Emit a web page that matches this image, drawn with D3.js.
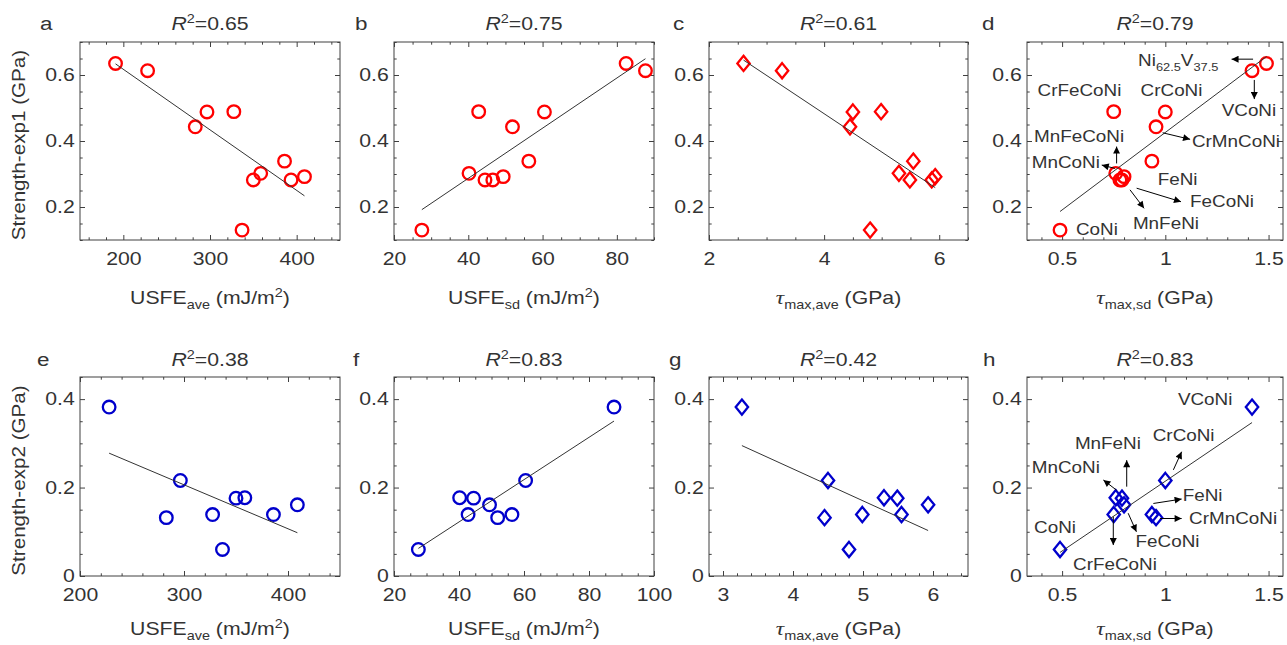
<!DOCTYPE html>
<html>
<head>
<meta charset="utf-8">
<script src="https://cdn.jsdelivr.net/npm/d3@7"></script>
<style>
  body { margin: 0; background: #fff; }
  svg { font-family: "Liberation Sans", Arial, sans-serif; }
</style>
</head>
<body>
<svg id="chart" width="1287" height="645"></svg>
<script>
// alloys, same order in every array
var alloys    = ["Ni62.5V37.5", "VCoNi", "CrFeCoNi", "CrCoNi", "CrMnCoNi", "FeNi", "MnFeCoNi", "MnCoNi", "FeCoNi", "MnFeNi", "CoNi"];
var usfeAve   = [191, 228, 327.5, 296.5, 283, 386, 393.5, 358.5, 409, 350, 337];
var usfeSd    = [82.5, 87.7, 42.8, 60.5, 51.9, 56.3, 46.6, 40.2, 49.4, 44.5, 27.5];
var tauAve    = [2.6, 3.27, 4.99, 4.5, 4.45, 5.55, 5.87, 5.3, 5.93, 5.49, 4.8];
var tauSd     = [1.49, 1.42, 0.75, 1.0, 0.955, 0.935, 0.78, 0.76, 0.80, 0.79, 0.49];
var strength1 = [0.635, 0.613, 0.489, 0.488, 0.443, 0.339, 0.282, 0.302, 0.292, 0.282, 0.13];
var strength2 = [null, 0.382, 0.139, 0.216, 0.132, 0.139, null, 0.177, 0.161, 0.176, 0.06];

var r2Values  = ["0.65", "0.75", "0.61", "0.79", "0.38", "0.83", "0.42", "0.83"];
var letters   = ["a", "b", "c", "d", "e", "f", "g", "h"];

var yTicksTop = [0.2, 0.4, 0.6];
var yTicksBottom = [0, 0.2, 0.4];

var SX = 1.18;          // the figure's font is wider than Arial
var INK = "#333333";
var RED = "#ff0000", BLUE = "#0000cc";

var svg = d3.select("#chart");

svg.append("defs").append("marker")
    .attr("id", "arr")
    .attr("viewBox", "0 0 10 10")
    .attr("refX", 10).attr("refY", 5)
    .attr("markerWidth", 9).attr("markerHeight", 7)
    .attr("markerUnits", "userSpaceOnUse")
    .attr("orient", "auto")
  .append("path")
    .attr("d", "M0,0L10,5L0,10Z")
    .attr("fill", "#000");

var cols = [{left: 80, width: 260}, {left: 394, width: 260}, {left: 709, width: 259}, {left: 1027, width: 256}];
var rows = [
  {top: 42, bottom: 240, titleY: 30, labelY: 304, yDomain: [0.1, 0.7], yTicks: yTicksTop, ys: strength1, color: RED, yLabel: "Strength-exp1 (GPa)"},
  {top: 377, bottom: 576, titleY: 366, labelY: 635, yDomain: [0, 0.45], yTicks: yTicksBottom, ys: strength2, color: BLUE, yLabel: "Strength-exp2 (GPa)"}
];

var labUsfeAve = [["USFE"], ["ave", "sub"], [" (mJ/m"], ["2", "sup"], [")"]];
var labUsfeSd  = [["USFE"], ["sd", "sub"], [" (mJ/m"], ["2", "sup"], [")"]];
var labTauAve  = [["τ", "tau"], ["max,ave", "sub"], [" (GPa)"]];
var labTauSd   = [["τ", "tau"], ["max,sd", "sub"], [" (GPa)"]];

// annotations of panels d and h, in data units
var annD = [
  {t: [["Ni"], ["62.5", "sub"], ["V"], ["37.5", "sub"]], x: 0.868, y: 0.645, a: "start"},
  {t: [["VCoNi"]], x: 1.405, y: 0.494, a: "middle"},
  {t: [["CrFeCoNi"]], x: 0.584, y: 0.555, a: "middle"},
  {t: [["CrCoNi"]], x: 1.03, y: 0.555, a: "middle"},
  {t: [["MnFeCoNi"]], x: 0.582, y: 0.415, a: "middle"},
  {t: [["MnCoNi"]], x: 0.518, y: 0.335, a: "middle"},
  {t: [["CrMnCoNi"]], x: 1.129, y: 0.40, a: "start"},
  {t: [["FeNi"]], x: 0.963, y: 0.285, a: "start"},
  {t: [["FeCoNi"]], x: 1.12, y: 0.218, a: "start"},
  {t: [["MnFeNi"]], x: 0.843, y: 0.152, a: "start"},
  {t: [["CoNi"]], x: 0.567, y: 0.132, a: "start"}
];
var arrD = [
  [1.425, 0.648, 1.321, 0.648],
  [1.431, 0.585, 1.431, 0.527],
  [0.764, 0.332, 0.764, 0.383],
  [0.756, 0.317, 0.692, 0.327],
  [0.987, 0.425, 1.120, 0.405],
  [0.861, 0.257, 1.076, 0.216],
  [0.829, 0.252, 0.897, 0.196]
];
var annH = [
  {t: [["VCoNi"]], x: 1.061, y: 0.400, a: "start"},
  {t: [["CrCoNi"]], x: 0.939, y: 0.319, a: "start"},
  {t: [["MnFeNi"]], x: 0.562, y: 0.301, a: "start"},
  {t: [["MnCoNi"]], x: 0.353, y: 0.247, a: "start"},
  {t: [["FeNi"]], x: 1.084, y: 0.183, a: "start"},
  {t: [["CrMnCoNi"]], x: 1.115, y: 0.130, a: "start"},
  {t: [["FeCoNi"]], x: 0.856, y: 0.078, a: "start"},
  {t: [["CrFeCoNi"]], x: 0.553, y: 0.026, a: "start"},
  {t: [["CoNi"]], x: 0.364, y: 0.111, a: "start"}
];
var arrH = [
  [1.039, 0.240, 1.079, 0.281],
  [0.813, 0.202, 0.813, 0.262],
  [0.764, 0.194, 0.700, 0.217],
  [0.942, 0.164, 1.079, 0.174],
  [0.974, 0.130, 1.079, 0.130],
  [0.820, 0.142, 0.860, 0.100],
  [0.748, 0.134, 0.748, 0.070]
];

var panels = [
  {row: 0, col: 0, xs: usfeAve, xDomain: [150, 450], xTicks: [200, 300, 400], minor: 20, shape: "circle", xLabel: labUsfeAve, letterX: 40},
  {row: 0, col: 1, xs: usfeSd, xDomain: [20, 90], xTicks: [20, 40, 60, 80], minor: 5, shape: "circle", xLabel: labUsfeSd, letterX: 355},
  {row: 0, col: 2, xs: tauAve, xDomain: [2, 6.5], xTicks: [2, 4, 6], minor: 0.5, shape: "diamond", xLabel: labTauAve, letterX: 673},
  {row: 0, col: 3, xs: tauSd, xDomain: [0.33, 1.57], xTicks: [0.5, 1, 1.5], minor: 0.1, shape: "circle", xLabel: labTauSd, letterX: 982, ann: annD, arrows: arrD},
  {row: 1, col: 0, xs: usfeAve, xDomain: [200, 450], xTicks: [200, 300, 400], minor: 20, shape: "circle", xLabel: labUsfeAve, letterX: 37},
  {row: 1, col: 1, xs: usfeSd, xDomain: [20, 100], xTicks: [20, 40, 60, 80, 100], minor: 5, shape: "circle", xLabel: labUsfeSd, letterX: 353},
  {row: 1, col: 2, xs: tauAve, xDomain: [2.8, 6.5], xTicks: [3, 4, 5, 6], minor: 0.2, shape: "diamond", xLabel: labTauAve, letterX: 669},
  {row: 1, col: 3, xs: tauSd, xDomain: [0.33, 1.57], xTicks: [0.5, 1, 1.5], minor: 0.1, shape: "diamond", xLabel: labTauSd, letterX: 983, ann: annH, arrows: arrH}
];

function richText(g, x, y, parts, size, anchor, rot) {
  var t = g.append("text")
      .attr("transform", "translate(" + x + "," + y + ")" + (rot || "") + " scale(" + SX + ",1)")
      .attr("text-anchor", anchor || "start")
      .attr("font-size", size)
      .attr("fill", INK);
  var shift = 0;
  parts.forEach(function(p) {
    var kind = p[1] || "";
    var target = kind === "sub" ? size * 0.3 : kind === "sup" ? -size * 0.4 : 0;
    var ts = t.append("tspan").attr("dy", target - shift).text(p[0]);
    shift = target;
    if (kind === "sub" || kind === "sup") ts.attr("font-size", size * 0.68);
    if (kind === "it") ts.attr("font-style", "italic");
    if (kind === "tau") ts.attr("font-family", "'Liberation Serif', serif").attr("font-style", "italic").attr("font-size", size * 1.1);
  });
  return t;
}

function minorTicks(domain, step, major) {
  var out = [];
  for (var i = Math.ceil(domain[0] / step - 1e-9); i * step <= domain[1] + 1e-9; i++) {
    var v = +(i * step).toFixed(6);
    if (major.every(function(m) { return Math.abs(m - v) > 1e-6; })) out.push(v);
  }
  return out;
}

function fit(xs, ys) {
  var pts = xs.map(function(x, i) { return [x, ys[i]]; }).filter(function(p) { return p[1] != null; });
  var mx = d3.mean(pts, function(p) { return p[0]; }), my = d3.mean(pts, function(p) { return p[1]; });
  var sxy = d3.sum(pts, function(p) { return (p[0] - mx) * (p[1] - my); });
  var sxx = d3.sum(pts, function(p) { return (p[0] - mx) * (p[0] - mx); });
  var b = sxy / sxx, a = my - b * mx;
  var ext = d3.extent(pts, function(p) { return p[0]; });
  return [[ext[0], a + b * ext[0]], [ext[1], a + b * ext[1]]];
}

panels.forEach(function(p, idx) {
  var c = cols[p.col], r = rows[p.row];
  var x = d3.scaleLinear().domain(p.xDomain).range([c.left, c.left + c.width]);
  var y = d3.scaleLinear().domain(r.yDomain).range([r.bottom, r.top]);
  var g = svg.append("g");

  // box
  g.append("rect")
      .attr("x", c.left).attr("y", r.top)
      .attr("width", c.width).attr("height", r.bottom - r.top)
      .attr("fill", "none").attr("stroke", "#404040").attr("stroke-width", 1);

  var xMinor = minorTicks(p.xDomain, p.minor, p.xTicks);
  var yMinor = minorTicks(r.yDomain, 0.05, r.yTicks);

  function tickAxis(axis, pos, values, size, withLabels) {
    var a = g.append("g").attr("transform", pos)
        .call(axis.tickValues(values).tickSizeInner(-size).tickSizeOuter(0)
          .tickPadding(withLabels ? withLabels : 0)
          .tickFormat(withLabels ? function(d) { return String(d); } : ""));
    a.select(".domain").remove();
    a.selectAll(".tick line").attr("stroke", "#404040");
    a.selectAll(".tick text").attr("fill", INK).attr("font-size", 18)
        .attr("font-family", "'Liberation Sans', Arial, sans-serif");
    return a;
  }

  var bx = tickAxis(d3.axisBottom(x), "translate(0," + r.bottom + ")", p.xTicks, 5, 12.5);
  bx.selectAll(".tick text").attr("transform", "scale(" + SX + ",1)");
  tickAxis(d3.axisBottom(x), "translate(0," + r.bottom + ")", xMinor, 2.7, 0);
  tickAxis(d3.axisTop(x), "translate(0," + r.top + ")", p.xTicks, 5, 0);
  tickAxis(d3.axisTop(x), "translate(0," + r.top + ")", xMinor, 2.7, 0);

  var ly = tickAxis(d3.axisLeft(y), "translate(" + c.left + ",0)", r.yTicks, 5, 4.5);
  ly.selectAll(".tick text").attr("transform", "scale(" + SX + ",1)");
  tickAxis(d3.axisLeft(y), "translate(" + c.left + ",0)", yMinor, 2.7, 0);
  tickAxis(d3.axisRight(y), "translate(" + (c.left + c.width) + ",0)", r.yTicks, 5, 0);
  tickAxis(d3.axisRight(y), "translate(" + (c.left + c.width) + ",0)", yMinor, 2.7, 0);

  // markers
  var pts = p.xs.map(function(v, i) { return {x: v, y: r.ys[i], name: alloys[i]}; })
      .filter(function(d) { return d.y != null; });
  if (p.shape === "circle") {
    g.selectAll("circle.pt").data(pts).enter().append("circle")
        .attr("class", "pt")
        .attr("cx", function(d) { return x(d.x); })
        .attr("cy", function(d) { return y(d.y); })
        .attr("r", 6.3)
        .attr("fill", "none").attr("stroke", r.color).attr("stroke-width", 2.3);
  } else {
    g.selectAll("path.pt").data(pts).enter().append("path")
        .attr("class", "pt")
        .attr("d", "M0,-7.6L6.2,0L0,7.6L-6.2,0Z")
        .attr("transform", function(d) { return "translate(" + x(d.x) + "," + y(d.y) + ")"; })
        .attr("fill", "none").attr("stroke", r.color).attr("stroke-width", 2.3)
        .attr("stroke-linejoin", "miter");
  }

  // regression line
  var f = fit(p.xs, r.ys);
  g.append("line")
      .attr("x1", x(f[0][0])).attr("y1", y(f[0][1]))
      .attr("x2", x(f[1][0])).attr("y2", y(f[1][1]))
      .attr("stroke", "#333").attr("stroke-width", 1);

  // annotations
  (p.arrows || []).forEach(function(a) {
    g.append("line")
        .attr("x1", x(a[0])).attr("y1", y(a[1]))
        .attr("x2", x(a[2])).attr("y2", y(a[3]))
        .attr("stroke", "#000").attr("stroke-width", 1)
        .attr("marker-end", "url(#arr)");
  });
  (p.ann || []).forEach(function(a) {
    richText(g, x(a.x), y(a.y) + 5.8, a.t, 16, a.a);
  });

  // texts
  var cx = c.left + c.width / 2;
  richText(g, cx, r.titleY, [["R", "it"], ["2", "sup"], ["=" + r2Values[idx]]], 18, "middle");
  richText(g, p.letterX, r.titleY, [[letters[idx]]], 19, "start");
  richText(g, cx, r.labelY, p.xLabel, 18, "middle");
  if (p.col === 0) {
    richText(g, 25, (r.top + r.bottom) / 2 + 4, [[r.yLabel]], 17.5, "middle", " rotate(-90)");
  }
});
</script>
</body>
</html>
